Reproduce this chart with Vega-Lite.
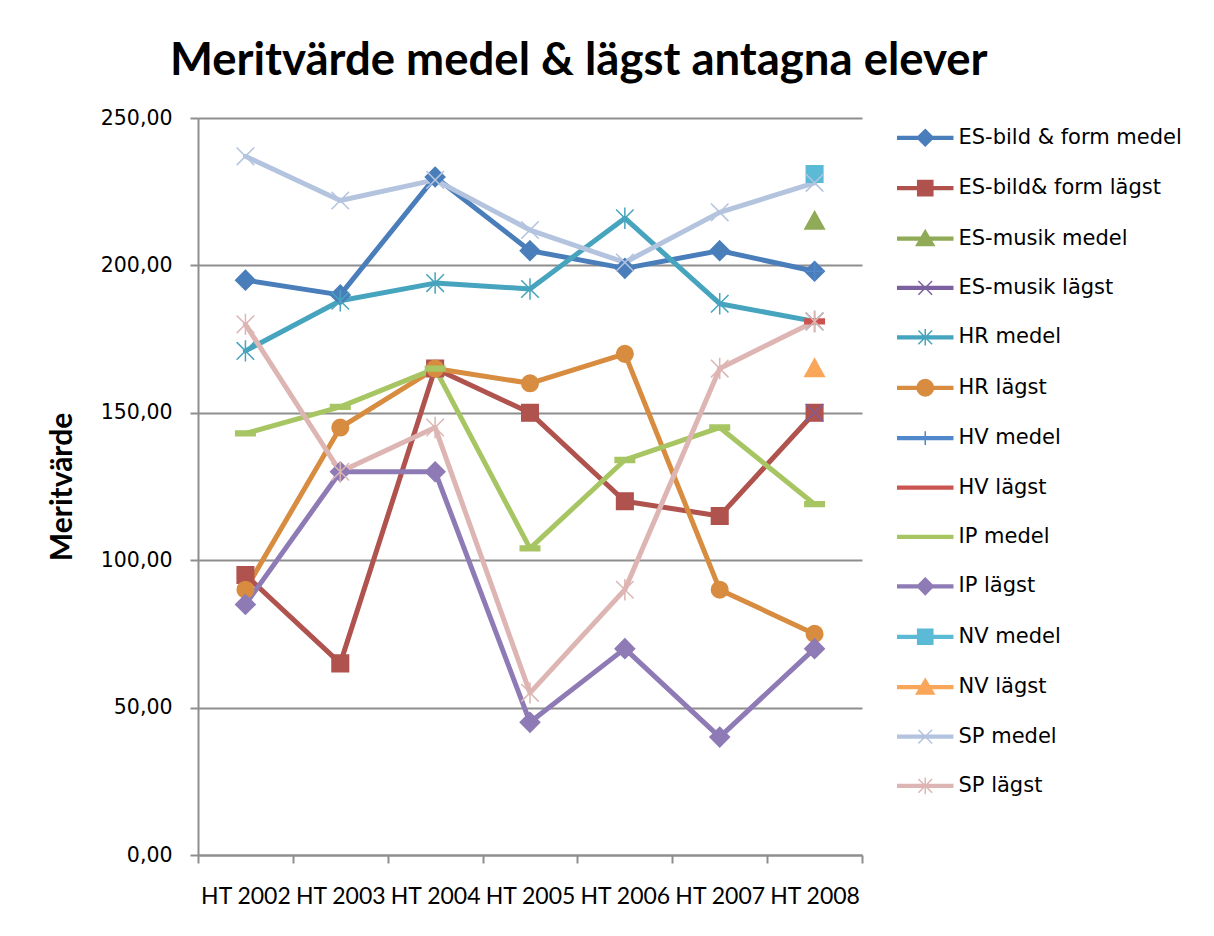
{
  "$schema": "https://vega.github.io/schema/vega-lite/v6.json",
  "width": 664,
  "height": 737,
  "autosize": "none",
  "padding": {"left": 198, "top": 118, "right": 352, "bottom": 81},
  "background": "white",
  "config": {"view": {"stroke": null}, "font": "Lato"},
  "title": {"text": "Meritvärde medel & lägst antagna elever", "font": "Lato", "fontSize": 45.5, "fontWeight": "bold", "color": "black", "anchor": "start", "frame": "group", "dx": -28, "baseline": "alphabetic", "offset": -12},
  "data": {"values": [
    {"series": "ES-bild & form medel", "year": "HT 2002", "v": 195},
    {"series": "ES-bild & form medel", "year": "HT 2003", "v": 190},
    {"series": "ES-bild & form medel", "year": "HT 2004", "v": 230},
    {"series": "ES-bild & form medel", "year": "HT 2005", "v": 205},
    {"series": "ES-bild & form medel", "year": "HT 2006", "v": 199},
    {"series": "ES-bild & form medel", "year": "HT 2007", "v": 205},
    {"series": "ES-bild & form medel", "year": "HT 2008", "v": 198},
    {"series": "ES-bild& form lägst", "year": "HT 2002", "v": 95},
    {"series": "ES-bild& form lägst", "year": "HT 2003", "v": 65},
    {"series": "ES-bild& form lägst", "year": "HT 2004", "v": 165},
    {"series": "ES-bild& form lägst", "year": "HT 2005", "v": 150},
    {"series": "ES-bild& form lägst", "year": "HT 2006", "v": 120},
    {"series": "ES-bild& form lägst", "year": "HT 2007", "v": 115},
    {"series": "ES-bild& form lägst", "year": "HT 2008", "v": 150},
    {"series": "ES-musik medel", "year": "HT 2008", "v": 215},
    {"series": "ES-musik lägst", "year": "HT 2008", "v": 150},
    {"series": "HR medel", "year": "HT 2002", "v": 171},
    {"series": "HR medel", "year": "HT 2003", "v": 188},
    {"series": "HR medel", "year": "HT 2004", "v": 194},
    {"series": "HR medel", "year": "HT 2005", "v": 192},
    {"series": "HR medel", "year": "HT 2006", "v": 216},
    {"series": "HR medel", "year": "HT 2007", "v": 187},
    {"series": "HR medel", "year": "HT 2008", "v": 181},
    {"series": "HR lägst", "year": "HT 2002", "v": 90},
    {"series": "HR lägst", "year": "HT 2003", "v": 145},
    {"series": "HR lägst", "year": "HT 2004", "v": 165},
    {"series": "HR lägst", "year": "HT 2005", "v": 160},
    {"series": "HR lägst", "year": "HT 2006", "v": 170},
    {"series": "HR lägst", "year": "HT 2007", "v": 90},
    {"series": "HR lägst", "year": "HT 2008", "v": 75},
    {"series": "HV medel", "year": "HT 2008", "v": 198},
    {"series": "HV lägst", "year": "HT 2008", "v": 181},
    {"series": "IP medel", "year": "HT 2002", "v": 143},
    {"series": "IP medel", "year": "HT 2003", "v": 152},
    {"series": "IP medel", "year": "HT 2004", "v": 165},
    {"series": "IP medel", "year": "HT 2005", "v": 104},
    {"series": "IP medel", "year": "HT 2006", "v": 134},
    {"series": "IP medel", "year": "HT 2007", "v": 145},
    {"series": "IP medel", "year": "HT 2008", "v": 119},
    {"series": "IP lägst", "year": "HT 2002", "v": 85},
    {"series": "IP lägst", "year": "HT 2003", "v": 130},
    {"series": "IP lägst", "year": "HT 2004", "v": 130},
    {"series": "IP lägst", "year": "HT 2005", "v": 45},
    {"series": "IP lägst", "year": "HT 2006", "v": 70},
    {"series": "IP lägst", "year": "HT 2007", "v": 40},
    {"series": "IP lägst", "year": "HT 2008", "v": 70},
    {"series": "NV medel", "year": "HT 2008", "v": 231},
    {"series": "NV lägst", "year": "HT 2008", "v": 165},
    {"series": "SP medel", "year": "HT 2002", "v": 237},
    {"series": "SP medel", "year": "HT 2003", "v": 222},
    {"series": "SP medel", "year": "HT 2004", "v": 229},
    {"series": "SP medel", "year": "HT 2005", "v": 212},
    {"series": "SP medel", "year": "HT 2006", "v": 201},
    {"series": "SP medel", "year": "HT 2007", "v": 218},
    {"series": "SP medel", "year": "HT 2008", "v": 228},
    {"series": "SP lägst", "year": "HT 2002", "v": 180},
    {"series": "SP lägst", "year": "HT 2003", "v": 130},
    {"series": "SP lägst", "year": "HT 2004", "v": 145},
    {"series": "SP lägst", "year": "HT 2005", "v": 55},
    {"series": "SP lägst", "year": "HT 2006", "v": 90},
    {"series": "SP lägst", "year": "HT 2007", "v": 165},
    {"series": "SP lägst", "year": "HT 2008", "v": 181}
  ]},
  "encoding": {
    "x": {"field": "year", "type": "ordinal",
      "scale": {"type": "band", "domain": ["HT 2002", "HT 2003", "HT 2004", "HT 2005", "HT 2006", "HT 2007", "HT 2008"], "paddingInner": 0, "paddingOuter": 0},
      "axis": {"title": null, "labelAngle": 0, "domainColor": "#8e8e8e", "domainWidth": 2, "tickColor": "#8e8e8e", "tickWidth": 2, "tickSize": 8, "tickBand": "extent", "labelFont": "Lato", "labelFontSize": 23, "labelColor": "black", "labelPadding": 22, "grid": false}},
    "y": {"field": "v", "type": "quantitative",
      "scale": {"domain": [0, 250], "nice": false, "zero": true},
      "axis": {"title": "Meritvärde", "titleFont": "Lato", "titleFontSize": 30, "titleFontWeight": "bold", "titleColor": "black", "titlePadding": 23,
        "values": [0, 50, 100, 150, 200, 250], "labelExpr": "replace(format(datum.value, '.2f'), '.', ',')",
        "labelFont": "DejaVu Sans", "labelFontSize": 20.5, "labelColor": "black", "labelPadding": 18,
        "tickSize": 8, "tickColor": "#8e8e8e", "tickWidth": 2, "domainColor": "#8e8e8e", "domainWidth": 2,
        "grid": true, "gridColor": "#8e8e8e", "gridWidth": 2}}
  },
  "layer": [
    {
      "mark": {"type": "line", "strokeWidth": 5, "strokeJoin": "round", "strokeCap": "round"},
      "encoding": {
        "color": {"field": "series", "type": "nominal", "legend": null,
          "scale": {"domain": ["ES-bild & form medel", "ES-bild& form lägst", "ES-musik medel", "ES-musik lägst", "HR medel", "HR lägst", "HV medel", "HV lägst", "IP medel", "IP lägst", "NV medel", "NV lägst", "SP medel", "SP lägst"],
            "range": ["#4A7EBB", "#B0524D", "#90AB58", "#7D60A0", "#46A4BE", "#D88C40", "#5088CB", "#CC5450", "#A7C663", "#8E7BB5", "#5BBAD6", "#F9A65A", "#B4C4DF", "#DDB5B3"]}}
      }
    },
    {
      "mark": {"type": "point", "filled": true, "size": 380, "strokeWidth": 1.5, "opacity": 1},
      "encoding": {
        "color": {"field": "series", "type": "nominal", "legend": null,
          "scale": {"domain": ["ES-bild & form medel", "ES-bild& form lägst", "ES-musik medel", "ES-musik lägst", "HR medel", "HR lägst", "HV medel", "HV lägst", "IP medel", "IP lägst", "NV medel", "NV lägst", "SP medel", "SP lägst"],
            "range": ["#4A7EBB", "#B0524D", "#90AB58", "#7D60A0", "#46A4BE", "#D88C40", "#5088CB", "#CC5450", "#A7C663", "#8E7BB5", "#5BBAD6", "#F9A65A", "#B4C4DF", "#DDB5B3"]}},
        "stroke": {"field": "series", "type": "nominal", "legend": null,
          "scale": {"domain": ["ES-bild & form medel", "ES-bild& form lägst", "ES-musik medel", "ES-musik lägst", "HR medel", "HR lägst", "HV medel", "HV lägst", "IP medel", "IP lägst", "NV medel", "NV lägst", "SP medel", "SP lägst"],
            "range": ["#4A7EBB", "#B0524D", "#90AB58", "#7D60A0", "#46A4BE", "#D88C40", "#5088CB", "#CC5450", "#A7C663", "#8E7BB5", "#5BBAD6", "#F9A65A", "#B4C4DF", "#DDB5B3"]}},
        "shape": {"field": "series", "type": "nominal", "legend": null,
          "scale": {"domain": ["ES-bild & form medel", "ES-bild& form lägst", "ES-musik medel", "ES-musik lägst", "HR medel", "HR lägst", "HV medel", "HV lägst", "IP medel", "IP lägst", "NV medel", "NV lägst", "SP medel", "SP lägst"],
            "range": [
              "M0,-1L1,0L0,1L-1,0Z",
              "M-0.85,-0.85H0.85V0.85H-0.85Z",
              "M0,-1L1,0.8H-1Z",
              "M-0.9,-0.9L0.9,0.9M-0.9,0.9L0.9,-0.9",
              "M-0.9,-0.9L0.9,0.9M-0.9,0.9L0.9,-0.9M0,-1.1V1.1",
              "M-0.85,0A0.85,0.85 0 1,1 0.85,0A0.85,0.85 0 1,1 -0.85,0Z",
              "M-1,0H1M0,-1V1",
              "M-1,-0.25H1V0.25H-1Z",
              "M-1,-0.25H1V0.25H-1Z",
              "M0,-1L1,0L0,1L-1,0Z",
              "M-0.85,-0.85H0.85V0.85H-0.85Z",
              "M0,-1L1,0.8H-1Z",
              "M-0.9,-0.9L0.9,0.9M-0.9,0.9L0.9,-0.9",
              "M-0.9,-0.9L0.9,0.9M-0.9,0.9L0.9,-0.9M0,-1.1V1.1"
            ]}}
      }
    },
    {
      "transform": [{"filter": "false"}],
      "mark": {"type": "point", "filled": true, "size": 756, "strokeWidth": 1.5},
      "encoding": {
        "color": {"field": "series", "type": "nominal",
          "legend": {"orient": "none", "legendX": 712.75, "legendY": 5.25, "direction": "vertical", "title": null, "labelFont": "DejaVu Sans", "labelFontSize": 21, "labelColor": "black", "labelOffset": 18.75, "labelLimit": 400, "rowPadding": 24.4, "symbolStrokeWidth": 1.5, "symbolSize": 756, "symbolOpacity": 1, "padding": 0},
          "scale": {"domain": ["ES-bild & form medel", "ES-bild& form lägst", "ES-musik medel", "ES-musik lägst", "HR medel", "HR lägst", "HV medel", "HV lägst", "IP medel", "IP lägst", "NV medel", "NV lägst", "SP medel", "SP lägst"],
            "range": ["#4A7EBB", "#B0524D", "#90AB58", "#7D60A0", "#46A4BE", "#D88C40", "#5088CB", "#CC5450", "#A7C663", "#8E7BB5", "#5BBAD6", "#F9A65A", "#B4C4DF", "#DDB5B3"]}},
        "stroke": {"field": "series", "type": "nominal",
          "legend": {"orient": "none", "legendX": 712.75, "legendY": 5.25, "direction": "vertical", "title": null, "labelFont": "DejaVu Sans", "labelFontSize": 21, "labelColor": "black", "labelOffset": 18.75, "labelLimit": 400, "rowPadding": 24.4, "symbolStrokeWidth": 1.5, "symbolSize": 756, "symbolOpacity": 1, "padding": 0},
          "scale": {"domain": ["ES-bild & form medel", "ES-bild& form lägst", "ES-musik medel", "ES-musik lägst", "HR medel", "HR lägst", "HV medel", "HV lägst", "IP medel", "IP lägst", "NV medel", "NV lägst", "SP medel", "SP lägst"],
            "range": ["#4A7EBB", "#B0524D", "#90AB58", "#7D60A0", "#46A4BE", "#D88C40", "#5088CB", "#CC5450", "#A7C663", "#8E7BB5", "#5BBAD6", "#F9A65A", "#B4C4DF", "#DDB5B3"]}},
        "shape": {"field": "series", "type": "nominal",
          "legend": {"orient": "none", "legendX": 712.75, "legendY": 5.25, "direction": "vertical", "title": null, "labelFont": "DejaVu Sans", "labelFontSize": 21, "labelColor": "black", "labelOffset": 18.75, "labelLimit": 400, "rowPadding": 24.4, "symbolStrokeWidth": 1.5, "symbolSize": 756, "symbolOpacity": 1, "padding": 0},
          "scale": {"domain": ["ES-bild & form medel", "ES-bild& form lägst", "ES-musik medel", "ES-musik lägst", "HR medel", "HR lägst", "HV medel", "HV lägst", "IP medel", "IP lägst", "NV medel", "NV lägst", "SP medel", "SP lägst"],
            "range": [
              "M-2,-0.1H2V0.1H-2Z M0,-0.6L0.6,0L0,0.6L-0.6,0Z",
              "M-2,-0.1H2V0.1H-2Z M-0.55,-0.55H0.55V0.55H-0.55Z",
              "M-2,-0.1H2V0.1H-2Z M0,-0.6L0.65,0.5H-0.65Z",
              "M-2,-0.1H2V0.1H-2Z M-0.5,-0.5L0.5,0.5M-0.5,0.5L0.5,-0.5",
              "M-2,-0.1H2V0.1H-2Z M-0.5,-0.5L0.5,0.5M-0.5,0.5L0.5,-0.5M0,-0.6V0.6",
              "M-2,-0.1H2V0.1H-2Z M-0.6,0A0.6,0.6 0 1,1 0.6,0A0.6,0.6 0 1,1 -0.6,0Z",
              "M-2,-0.1H2V0.1H-2Z M0,-0.5V0.5",
              "M-2,-0.1H2V0.1H-2Z",
              "M-2,-0.1H2V0.1H-2Z",
              "M-2,-0.1H2V0.1H-2Z M0,-0.6L0.6,0L0,0.6L-0.6,0Z",
              "M-2,-0.1H2V0.1H-2Z M-0.55,-0.55H0.55V0.55H-0.55Z",
              "M-2,-0.1H2V0.1H-2Z M0,-0.6L0.65,0.5H-0.65Z",
              "M-2,-0.1H2V0.1H-2Z M-0.5,-0.5L0.5,0.5M-0.5,0.5L0.5,-0.5",
              "M-2,-0.1H2V0.1H-2Z M-0.5,-0.5L0.5,0.5M-0.5,0.5L0.5,-0.5M0,-0.6V0.6"
            ]}}
      }
    }
  ],
  "resolve": {"scale": {"color": "independent", "stroke": "independent", "shape": "independent"}}
}
